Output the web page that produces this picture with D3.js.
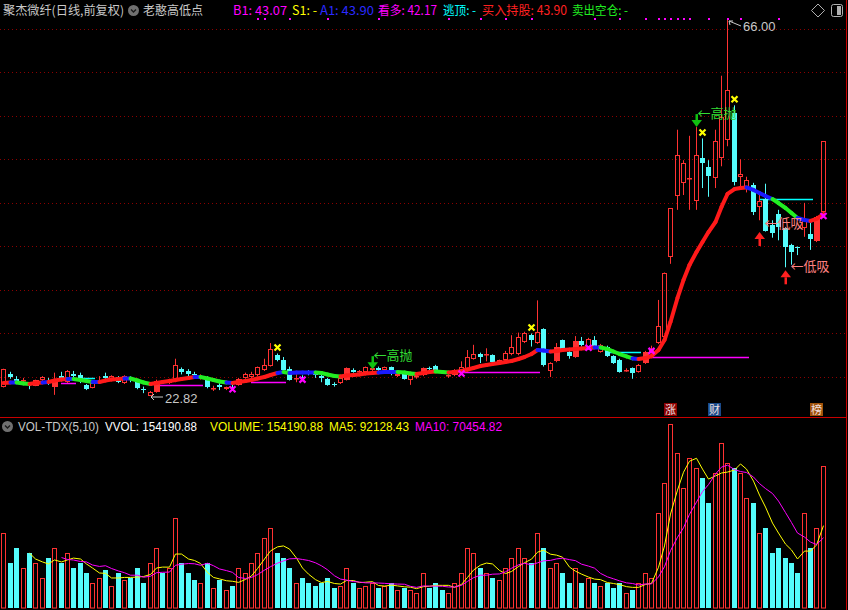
<!DOCTYPE html>
<html><head><meta charset="utf-8">
<script src="https://cdn.jsdelivr.net/npm/d3@7"></script>
<style>html,body{margin:0;padding:0;background:#000;overflow:hidden}</style>
</head><body><svg id="c" width="848" height="610"></svg>
<script>
// ---------- DATA ----------
const opens=[23.86,25.35,24.8,24.5,24.15,24.0,24.66,24.6,23.8,25.1,
24.4,25.3,25.2,24.1,23.75,24.6,25.1,24.7,25.0,24.3,
24.8,24.4,23.6,22.85,23.3,24.5,24.3,24.5,25.9,25.7,
25.4,24.9,25.0,23.6,24.1,23.65,23.9,24.1,24.9,25.0,
25.2,25.8,26.3,27.5,27.0,25.9,24.8,25.0,25.5,25.3,
25.1,24.8,24.2,24.3,24.7,25.8,25.6,25.6,25.8,26.0,
25.8,26.1,25.1,25.3,24.7,25.0,25.2,26.0,26.3,25.7,
25.1,25.2,25.5,25.7,27.1,27.7,27.5,27.5,26.5,26.95,
27.6,27.6,29.0,29.8,28.9,30.5,25.7,26.8,29.2,27.9,
27.3,29.1,28.45,29.2,27.9,28.5,27.4,27.0,25.75,26.0,
25.6,26.6,27.8,28.9,29.6,38.8,45.8,47.3,47.7,45.2,
50.1,49.1,47.9,50.2,52.2,55.3,48.0,46.8,47.05,44.5,
45.4,42.5,43.7,42.1,40.2,39.95,42.1,41.4,40.6,43.9];
const highs=[25.95,25.6,25.1,24.9,24.3,24.7,25.1,24.9,25.5,25.6,
25.8,25.7,25.5,24.2,24.4,25.1,25.5,25.2,25.1,25.2,
25.1,24.6,23.9,23.4,24.7,24.6,24.8,27.1,26.1,25.9,
25.6,25.3,25.1,24.0,24.3,23.9,24.1,24.9,25.5,25.6,
26.2,27.1,28.9,27.7,27.3,26.2,25.3,25.2,25.8,25.6,
25.3,24.9,24.4,25.0,26.1,26.0,25.8,26.2,26.2,26.2,
26.2,26.2,25.5,25.4,25.3,25.3,26.1,26.2,26.4,25.8,
25.3,25.9,26.8,28.1,28.7,27.8,28.3,27.6,27.0,28.0,
29.8,30.1,30.2,30.0,33.8,30.6,26.7,28.9,29.3,28.2,
29.7,29.6,29.5,29.7,28.8,28.6,27.5,27.1,26.0,26.1,
26.5,28.0,28.6,33.85,37.0,44.4,53.4,49.9,52.7,53.7,
52.4,49.9,53.4,59.6,66.0,56.2,50.0,48.0,47.3,46.1,
47.2,43.0,44.2,42.2,40.3,40.0,45.0,43.0,43.5,52.1];
const lows=[23.8,24.8,24.2,24.3,23.6,23.95,24.5,24.1,22.95,24.5,
24.3,24.9,24.3,23.5,23.7,24.3,24.6,24.6,24.3,24.2,
24.4,23.6,23.15,22.82,23.2,24.2,24.2,24.4,25.3,24.9,
24.9,24.7,23.7,23.4,23.5,23.5,23.5,24.0,24.8,24.9,
25.1,25.7,26.2,26.8,25.7,24.6,24.4,24.6,25.2,24.9,
24.4,24.0,23.9,24.2,24.6,25.5,25.5,25.5,25.7,25.5,
25.7,25.2,25.0,24.7,24.1,24.8,25.1,25.6,25.7,25.4,
24.9,25.1,25.4,25.6,27.0,26.6,26.8,26.6,26.4,26.9,
27.5,27.5,28.9,28.5,28.8,26.2,25.0,26.7,27.9,27.1,
27.2,28.5,28.3,28.4,27.8,27.3,26.5,25.5,25.6,24.8,
25.5,26.5,27.7,28.8,29.5,38.0,44.2,45.9,44.2,44.2,
46.7,45.7,46.7,49.2,51.5,47.0,46.5,46.2,43.6,43.0,
41.7,41.0,40.7,37.6,37.9,39.0,41.1,39.6,40.5,43.8];
const closes=[25.92,25.0,24.4,24.7,24.05,24.66,25.0,24.3,24.8,24.9,
25.7,25.15,24.8,23.65,24.3,24.7,24.9,25.1,24.4,25.1,
24.7,23.7,23.5,23.3,24.55,24.35,24.7,26.4,25.6,25.4,
25.2,25.1,23.8,23.7,23.8,23.8,23.7,24.8,25.4,25.4,
26.1,26.4,28.2,27.0,25.8,24.7,24.9,24.9,25.4,25.2,
24.9,24.1,24.1,24.9,26.0,25.6,25.7,26.1,26.0,25.8,
26.1,25.3,25.4,24.8,25.2,25.1,26.0,25.9,25.8,25.6,
25.2,25.8,26.2,27.3,27.6,27.3,27.6,26.7,26.9,27.8,
28.5,29.6,30.05,29.3,30.2,26.4,26.6,28.5,28.0,27.4,
29.1,28.7,29.4,28.5,28.7,27.4,26.6,25.6,25.85,25.45,
26.4,27.9,28.2,30.85,37.0,44.4,50.5,49.6,47.9,50.5,
49.6,48.1,52.1,54.9,58.0,47.4,48.3,47.6,44.0,45.2,
41.8,41.5,42.2,39.9,39.4,39.8,43.0,40.85,43.4,52.08];
const volumes=[81000,49000,65000,43000,60000,49000,33000,54000,65000,49000,
60000,43000,49000,38000,27000,33000,41000,24000,38000,30000,
33000,43000,27000,49000,65000,38000,43000,98000,49000,38000,
30000,27000,49000,22000,30000,20000,24000,43000,38000,49000,
60000,76000,87000,60000,54000,43000,27000,33000,27000,24000,
27000,33000,22000,24000,43000,27000,22000,24000,27000,22000,
24000,27000,20000,22000,20000,16000,38000,22000,27000,20000,
16000,27000,38000,65000,60000,43000,38000,33000,30000,43000,
54000,65000,54000,49000,81000,65000,43000,49000,38000,27000,
43000,27000,33000,27000,24000,27000,22000,27000,16000,20000,
27000,38000,33000,103000,136000,200000,168000,130000,163000,152000,
141000,114000,147000,179000,157000,152000,147000,119000,114000,81000,
87000,60000,65000,54000,49000,38000,103000,65000,87000,154190.88];
// indicator line (老憨高低点) values and colour state: r=up, g=down, b=flat
const lineVals=[24.31,24.37,24.37,24.26,24.20,24.31,24.37,24.43,24.60,24.72,
24.77,24.77,24.66,24.54,24.43,24.43,24.60,24.72,24.77,24.83,
24.83,24.60,24.37,24.20,24.31,24.43,24.54,24.66,24.77,24.89,
25.00,25.00,24.83,24.66,24.49,24.37,24.31,24.43,24.54,24.66,
24.83,25.00,25.23,25.46,25.58,25.46,25.52,25.52,25.52,25.52,
25.46,25.29,25.12,25.06,25.18,25.23,25.29,25.41,25.46,25.52,
25.58,25.58,25.58,25.52,25.41,25.35,25.46,25.58,25.63,25.58,
25.52,25.58,25.69,25.86,26.04,26.27,26.38,26.50,26.61,26.73,
26.84,27.07,27.30,27.64,28.10,28.05,27.93,27.99,28.10,28.16,
28.22,28.28,28.33,28.39,28.39,28.22,27.93,27.64,27.36,27.13,
27.07,27.18,27.41,28.10,29.25,31.32,34.08,36.14,37.87,39.36,
40.51,41.65,42.80,44.53,46.02,46.59,46.71,46.77,46.48,46.13,
45.79,45.44,44.98,44.41,43.84,43.26,43.03,42.92,43.15,43.72];
const lineState="rrbggrrbrrrbgggbrrrrbgggrrrrrrrbggggbrrrrrrrbgbbbbggggrrrrrrbbbgggrrrggrrrrrrrrrrrrrrbbrrrrrrrbgggggbrrrrrrrrrrrrrrrrrbbbbggggbbrr";
const solidBars=[5,8,24,37,54,66,71,87,90,101,128];
const gridPrices=[25,30,35,40,45,50,55,60,65];
const yellowMarks=[43,83,110,115];
const magentaMarks=[36,47,72,92,102,129];
const magentaMarkPrices=[23.6,24.7,25.4,28.35,28.0,43.5];
const magentaLevels=[[9,11,24.31],[24,31,24.08],[39,44,24.43],[72,84,25.58],[102,117,27.3]];
const cyanLevels=[[12,14,24.89],[95,100,27.88],[119,127,45.44]];
const topDots=[40,41,45,51,59,70,75,79,83,93,97,101,103,104,105,106,107,108,111,114,116,122];
const headerItems=[
 {t:"B1: 43.07",x:233,w:54,c:"#ff00ff"},{t:"S1: -",x:292,w:25,c:"#ffff00"},{t:"A1: 43.90",x:320,w:54,c:"#2a2aff"},
 {t:"看多: 42.17",x:378,w:59,c:"#ff00ff"},{t:"逃顶: -",x:443,w:33,c:"#00ffff"},{t:"买入持股: 43.90",x:482,w:85,c:"#ff2020"},
 {t:"卖出空仓: -",x:572,w:56,c:"#20ee20"}];
const volHeader=[
 {t:"VOL-TDX(5,10)",x:18,w:81,c:"#c8c8c8"},{t:"VVOL: 154190.88",x:105,w:92,c:"#ffffff"},
 {t:"VOLUME: 154190.88",x:210,w:113,c:"#ffff00"},{t:"MA5: 92128.43",x:329,w:80,c:"#ffff00"},
 {t:"MA10: 70454.82",x:415,w:87,c:"#ff00ff"}];

// ---------- SETUP ----------
const svg=d3.select("#c");
svg.append("rect").attr("width",848).attr("height",610).attr("fill","#000");
const N=closes.length, idx=d3.range(N);
const xb=d3.scaleBand().domain(idx).range([0.3,825.8]).padding(0);
const cx=i=>Math.round(xb(i)+xb.bandwidth()/2);
const y=d3.scaleLinear().domain([22.82,66]).range([396,20]);
const yv=d3.scaleLinear().domain([0,154190.88]).range([608,466]);
const UP="#ff3232", DN="#54fcfc";
const CJK="'Noto Sans CJK SC','Noto Sans',sans-serif";

// grid
const g0=svg.append("g");
g0.selectAll("line").data(gridPrices).join("line")
 .attr("x1",0).attr("x2",846).attr("y1",d=>Math.round(y(d))+0.5).attr("y2",d=>Math.round(y(d))+0.5)
 .attr("stroke","#8c0000").attr("stroke-dasharray","1,3");

// separators
svg.append("line").attr("x1",0).attr("x2",846).attr("y1",417.5).attr("y2",417.5).attr("stroke","#c80000");
svg.append("line").attr("x1",846.5).attr("x2",846.5).attr("y1",0).attr("y2",610).attr("stroke","#c80000");

// level lines
const lv=svg.append("g");
lv.selectAll(".m").data(magentaLevels).join("line")
 .attr("x1",d=>cx(d[0])).attr("x2",d=>cx(d[1])+3).attr("y1",d=>Math.round(y(d[2]))+0.5).attr("y2",d=>Math.round(y(d[2]))+0.5)
 .attr("stroke","#ff00ff").attr("stroke-width",1.5);
lv.selectAll(".c").data(cyanLevels).join("line")
 .attr("x1",d=>cx(d[0])).attr("x2",d=>cx(d[1])+3).attr("y1",d=>Math.round(y(d[2]))+0.5).attr("y2",d=>Math.round(y(d[2]))+0.5)
 .attr("stroke","#00ffff").attr("stroke-width",1.5);

// candles
const cg=svg.append("g");
idx.forEach(i=>{
  const o=opens[i],c=closes[i],h=highs[i],l=lows[i];
  const x=cx(i);
  const up=c>=o;
  const top=Math.round(y(Math.max(o,c))), bot=Math.max(Math.round(y(Math.min(o,c))),top+1);
  const solid=solidBars.includes(i);
  if(up){
    cg.append("line").attr("x1",x+0.5).attr("x2",x+0.5).attr("y1",y(h)).attr("y2",top).attr("stroke",UP);
    cg.append("line").attr("x1",x+0.5).attr("x2",x+0.5).attr("y1",bot).attr("y2",y(l)).attr("stroke",UP);
    if(solid){
      cg.append("rect").attr("x",x-2).attr("y",top).attr("width",6).attr("height",bot-top).attr("fill",UP);
    } else {
      cg.append("rect").attr("x",x-1.5).attr("y",top+0.5).attr("width",4).attr("height",Math.max(bot-top-1,0.5)).attr("fill","none").attr("stroke",UP);
    }
  } else {
    cg.append("line").attr("x1",x+0.5).attr("x2",x+0.5).attr("y1",y(h)).attr("y2",y(l)).attr("stroke",DN);
    cg.append("rect").attr("x",x-2).attr("y",top).attr("width",5).attr("height",Math.max(bot-top,1)).attr("fill",DN);
  }
});

// indicator line
const colMap={r:"#ff1a1a",g:"#22ee22",b:"#1a1aff"};
const lg=svg.append("g");
for(let i=1;i<N;i++){
  lg.append("line").attr("x1",cx(i-1)+0.5).attr("x2",cx(i)+0.5).attr("y1",y(lineVals[i-1])).attr("y2",y(lineVals[i]))
   .attr("stroke",colMap[lineState[i]]).attr("stroke-width",4).attr("stroke-linecap","round");
}

// X marks
function xmark(g,x,yy,col){
  g.append("path").attr("d",`M${x-3},${yy-3}L${x+3},${yy+3}M${x+3},${yy-3}L${x-3},${yy+3}`)
   .attr("stroke",col).attr("stroke-width",2.2);
  g.append("rect").attr("x",x-1.5).attr("y",yy-1.5).attr("width",3).attr("height",3).attr("fill",col);
}
const mk=svg.append("g");
yellowMarks.forEach(i=>xmark(mk,cx(i)+0.5,y(highs[i])-6,"#ffff00"));
magentaMarks.forEach((i,k)=>xmark(mk,cx(i)+0.5,y(magentaMarkPrices[k]),"#ff00ff"));

// top dots
svg.append("g").selectAll("rect").data(topDots).join("rect")
 .attr("x",d=>cx(d)).attr("y",18).attr("width",2).attr("height",2).attr("fill","#ff00ff");

// high / low labels
const hiI=d3.maxIndex(highs), loI=d3.minIndex(lows);
const lab=svg.append("g").attr("fill","#c8c8c8").attr("font-family","'Liberation Sans',Arial,sans-serif").attr("font-size",13);
lab.append("path").attr("d",`M${cx(hiI)+2},${y(highs[hiI])+1}L${cx(hiI)+14},${y(highs[hiI])+6}M${cx(hiI)+2},${y(highs[hiI])+1}l4,0M${cx(hiI)+2},${y(highs[hiI])+1}l1,4`)
 .attr("stroke","#c8c8c8").attr("fill","none");
lab.append("text").attr("x",cx(hiI)+16).attr("y",y(highs[hiI])+11).text(highs[hiI].toFixed(2));
lab.append("path").attr("d",`M${cx(loI)+1},${y(lows[loI])+1}L${cx(loI)+13},${y(lows[loI])+1}M${cx(loI)+1},${y(lows[loI])+1}l3,-3M${cx(loI)+1},${y(lows[loI])+1}l3,3`)
 .attr("stroke","#c8c8c8").attr("fill","none");
lab.append("text").attr("x",cx(loI)+15).attr("y",y(lows[loI])+7).text(lows[loI].toFixed(2));

// 高抛 / 低吸 signals
const sellSig=[{i:58,p:25.9},{i:109,p:53.7}];
const buySig=[{i:119,p:42.0,ty:229},{i:123,p:37.6,ty:272}];
const sg=svg.append("g").attr("font-family",CJK).attr("font-size",13);
sellSig.forEach(s=>{
  const x=cx(s.i)+0.5, yy=y(s.p);
  sg.append("rect").attr("x",x-1).attr("y",yy-13).attr("width",2.5).attr("height",7).attr("fill","#10c010");
  sg.append("path").attr("d",`M${x-5},${yy-7}L${x+5.5},${yy-7}L${x},${yy}Z`).attr("fill","#10c010");
  sg.append("text").attr("x",x+1).attr("y",yy-9).attr("fill","#33dd33").text("←高抛");
});
buySig.forEach(s=>{
  const x=cx(s.i)+0.5, yy=y(s.p)+3;
  sg.append("path").attr("d",`M${x-5},${yy+7}L${x+5.5},${yy+7}L${x},${yy}Z`).attr("fill","#ff2020");
  sg.append("rect").attr("x",x-1).attr("y",yy+7).attr("width",2.5).attr("height",7).attr("fill","#ff2020");
  sg.append("text").attr("x",x+5).attr("y",s.ty-1).attr("fill","#ff8080").text("←低吸");
});

// badges
const badges=[{t:"涨",x:664,c:"#8a0000"},{t:"财",x:708,c:"#1a4a8a"},{t:"榜",x:810,c:"#a0520a"}];
const bg=svg.append("g");
badges.forEach(b=>{
  bg.append("rect").attr("x",b.x).attr("y",403).attr("width",13).attr("height",13).attr("fill",b.c);
  bg.append("text").attr("x",b.x+6.5).attr("y",414).attr("text-anchor","middle").attr("fill","#f0e0e0")
   .attr("font-family",CJK).attr("font-size",11).text(b.t);
});

// ---------- header ----------
const hd=svg.append("g").attr("font-family",CJK).attr("font-size",12.5);
hd.append("text").attr("x",3).attr("y",15).attr("fill","#c8c8c8").attr("textLength",121).attr("lengthAdjust","spacingAndGlyphs").text("聚杰微纤(日线,前复权)");
function chev(g,x,yy){
  g.append("circle").attr("cx",x).attr("cy",yy).attr("r",5.5).attr("fill","#707070");
  g.append("path").attr("d",`M${x-2.5},${yy-1}L${x},${yy+1.5}L${x+2.5},${yy-1}`).attr("stroke","#1a1a1a").attr("stroke-width",1.4).attr("fill","none");
}
chev(hd,133.5,10.5);
hd.append("text").attr("x",143).attr("y",15).attr("fill","#c8c8c8").attr("textLength",60).attr("lengthAdjust","spacingAndGlyphs").text("老憨高低点");
headerItems.forEach(h=>hd.append("text").attr("x",h.x).attr("y",15).attr("fill",h.c)
  .attr("textLength",h.w).attr("lengthAdjust","spacingAndGlyphs").text(h.t));
// top-right icons
svg.append("path").attr("d","M818,4L824.5,10.5L818,17L811.5,10.5Z").attr("fill","none").attr("stroke","#b0b0b0");
svg.append("rect").attr("x",831.5).attr("y",4.5).attr("width",11).attr("height",12).attr("rx",2).attr("fill","none").attr("stroke","#b0b0b0");
svg.append("rect").attr("x",837).attr("y",6).attr("width",4).attr("height",9).attr("fill","#b0b0b0");

// ---------- volume panel ----------
const vg=svg.append("g");
idx.forEach(i=>{
  const x=cx(i), up=closes[i]>=opens[i], t=Math.round(yv(volumes[i]));
  if(up){
    vg.append("rect").attr("x",x-1.5).attr("y",t+0.5).attr("width",4).attr("height",607.5-t).attr("fill","none").attr("stroke",UP);
  } else {
    vg.append("rect").attr("x",x-2).attr("y",t).attr("width",5).attr("height",608-t).attr("fill",DN);
  }
});
const ma=(n)=>volumes.map((v,i)=>i<n-1?null:d3.mean(volumes.slice(i-n+1,i+1)));
const ma5=ma(5), ma10=ma(10);
const ln=d3.line().defined(d=>d[1]!=null).x(d=>cx(d[0])+0.5).y(d=>yv(d[1]));
vg.append("path").attr("d",ln(ma5.map((v,i)=>[i,v]))).attr("fill","none").attr("stroke","#ffff00");
vg.append("path").attr("d",ln(ma10.map((v,i)=>[i,v]))).attr("fill","none").attr("stroke","#ff00ff");

const vh=svg.append("g").attr("font-family","'Liberation Sans',Arial,sans-serif").attr("font-size",12.5);
chev(vh,7.5,426.5);
volHeader.forEach(h=>vh.append("text").attr("x",h.x).attr("y",431).attr("fill",h.c)
  .attr("textLength",h.w).attr("lengthAdjust","spacingAndGlyphs").text(h.t));
</script></body></html>
